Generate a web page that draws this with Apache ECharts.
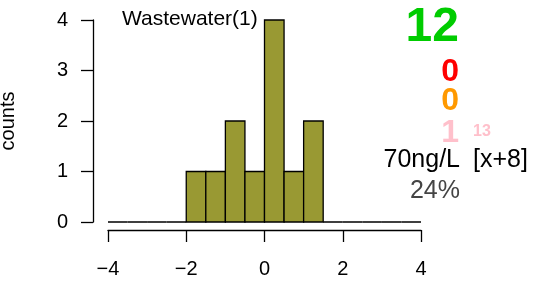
<!DOCTYPE html>
<html>
<head>
<meta charset="utf-8">
<script src="https://cdn.jsdelivr.net/npm/echarts@6/dist/echarts.min.js"></script>
<style>
html, body { margin: 0; padding: 0; background: #fff; }
#chart { width: 539px; height: 288px; }
</style>
</head>
<body>
<div id="chart"></div>
<script>
// histogram bins (width 0.5) and their counts
var binStart = [-4, -3.5, -3, -2.5, -2, -1.5, -1, -0.5, 0, 0.5, 1, 1.5, 2, 2.5, 3, 3.5];
var binEnd = [-3.5, -3, -2.5, -2, -1.5, -1, -0.5, 0, 0.5, 1, 1.5, 2, 2.5, 3, 3.5, 4];
var counts = [0, 0, 0, 0, 1, 1, 2, 1, 4, 1, 2, 0, 0, 0, 0, 0];
var xTicks = [-4, -2, 0, 2, 4];
var yTicks = [0, 1, 2, 3, 4];

var title = 'Wastewater(1)';
var total = '12';
var redNum = '0';
var orangeNum = '0';
var pinkNum = '1';
var pinkSmall = '13';
var conc = '70ng/L';
var shift = '[x+8]';
var pct = '24%';

var FONT = 'Liberation Sans, Arial, sans-serif';

var data = [];
for (var i = 0; i < counts.length; i++) {
	data.push([binStart[i], binEnd[i], counts[i]]);
}

var chart = echarts.init(document.getElementById('chart'));

var option = {
	backgroundColor: '#fff',
	animation: false,
	grid: {
		left: 108,
		right: 118,
		top: 20,
		bottom: 66,
		containLabel: false,
		outerBoundsMode: 'none'
	},
	xAxis: {
		type: 'value',
		min: xTicks[0],
		max: xTicks[xTicks.length - 1],
		interval: 2,
		offset: 8,
		axisLine: { show: true, onZero: false, lineStyle: { color: '#000', width: 1.3 } },
		axisTick: { show: true, length: 12, lineStyle: { color: '#000', width: 1.3 } },
		axisLabel: {
			margin: 29,
			fontSize: 20,
			fontFamily: FONT,
			color: '#000',
			formatter: function (v) { return v < 0 ? '\u2212' + Math.abs(v) : String(v); }
		},
		splitLine: { show: false }
	},
	yAxis: {
		type: 'value',
		min: yTicks[0],
		max: yTicks[yTicks.length - 1],
		interval: 1,
		offset: 15,
		name: 'counts',
		nameLocation: 'middle',
		nameGap: 75,
		nameRotate: 90,
		nameTextStyle: { fontSize: 20, fontFamily: FONT, color: '#000' },
		axisLine: { show: true, onZero: false, lineStyle: { color: '#000', width: 1.3 } },
		axisTick: { show: true, length: 12, lineStyle: { color: '#000', width: 1.3 } },
		axisLabel: { margin: 25, fontSize: 20, fontFamily: FONT, color: '#000' },
		splitLine: { show: false }
	},
	series: [{
		type: 'custom',
		data: data,
		encode: { x: [0, 1], y: 2 },
		renderItem: function (params, api) {
			var p0 = api.coord([api.value(0), 0]);
			var p1 = api.coord([api.value(1), api.value(2)]);
			return {
				type: 'rect',
				shape: { x: p0[0], y: p1[1], width: p1[0] - p0[0], height: p0[1] - p1[1] },
				style: { fill: '#999933', stroke: '#000', lineWidth: 1.3 }
			};
		}
	}],
	graphic: [
		{ type: 'text', left: 122, top: 9, style: { text: title, font: '21px ' + FONT, fill: '#000' } },
		{ type: 'text', x: 459, y: 28, style: { text: total, font: 'bold 48px ' + FONT, fill: '#00CC00', textAlign: 'right', textVerticalAlign: 'middle' } },
		{ type: 'text', x: 459, y: 72, style: { text: redNum, font: 'bold 32px ' + FONT, fill: '#FF0000', textAlign: 'right', textVerticalAlign: 'middle' } },
		{ type: 'text', x: 459, y: 101, style: { text: orangeNum, font: 'bold 32px ' + FONT, fill: '#FF9900', textAlign: 'right', textVerticalAlign: 'middle' } },
		{ type: 'text', x: 459, y: 133, style: { text: pinkNum, font: 'bold 32px ' + FONT, fill: '#FFC0CB', textAlign: 'right', textVerticalAlign: 'middle' } },
		{ type: 'text', x: 473, y: 132, style: { text: pinkSmall, font: 'bold 16px ' + FONT, fill: '#FFC0CB', textAlign: 'left', textVerticalAlign: 'middle' } },
		{ type: 'text', x: 460, y: 160, style: { text: conc, font: '25px ' + FONT, fill: '#000', textAlign: 'right', textVerticalAlign: 'middle' } },
		{ type: 'text', x: 473, y: 160, style: { text: shift, font: '25px ' + FONT, fill: '#000', textAlign: 'left', textVerticalAlign: 'middle' } },
		{ type: 'text', x: 460, y: 191, style: { text: pct, font: '25px ' + FONT, fill: '#444444', textAlign: 'right', textVerticalAlign: 'middle' } }
	]
};

chart.setOption(option);
</script>
</body>
</html>
